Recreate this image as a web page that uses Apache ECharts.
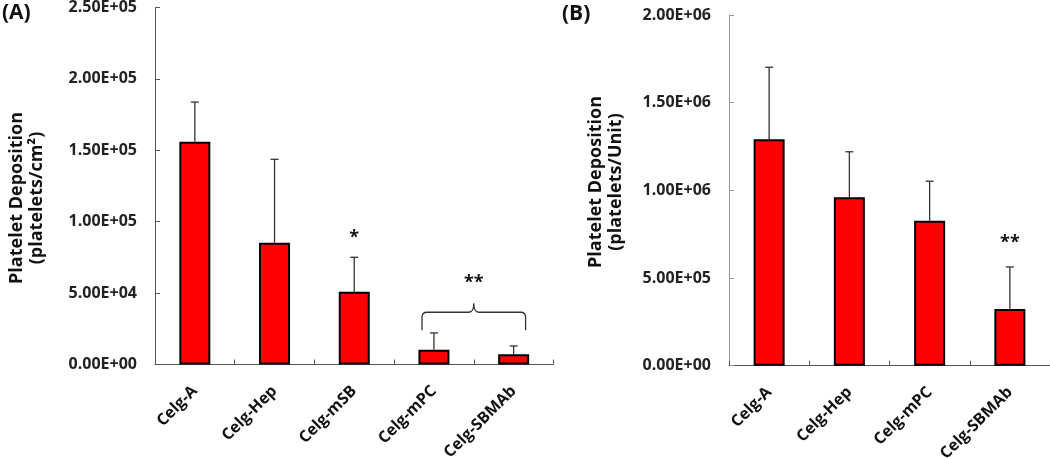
<!DOCTYPE html>
<html>
<head>
<meta charset="utf-8">
<script src="https://cdn.jsdelivr.net/npm/echarts@6/dist/echarts.min.js"></script>
<style>html,body{margin:0;padding:0;background:#fff;}#c{width:1050px;height:458px;}</style>
</head>
<body>
<div id="c"></div>
<script>
// ---- data ----
const categoriesA = ['Celg-A', 'Celg-Hep', 'Celg-mSB', 'Celg-mPC', 'Celg-SBMAb'];
const meanA = [156000, 85300, 51000, 10400, 7100];
const errA = [27800, 58400, 24100, 11700, 5900];
const yTicksA = ['0.00E+00', '5.00E+04', '1.00E+05', '1.50E+05', '2.00E+05', '2.50E+05'];

const categoriesB = ['Celg-A', 'Celg-Hep', 'Celg-mPC', 'Celg-SBMAb'];
const meanB = [1291000, 960000, 827000, 323000];
const errB = [411000, 260000, 225000, 240000];
const yTicksB = ['0.00E+00', '5.00E+05', '1.00E+06', '1.50E+06', '2.00E+06'];

// significance marks: [first category, last category, value level, text]
const sigA = [[2, 2, 88500, '*'], [3, 4, 57500, '**']];
const sigB = [[3, 3, 700000, '**']];
// brace over groups in panel A: [first category, last category, value level]
const braceA = [[3, 4, 36600]];

const stepA = 50000, stepB = 500000;

const FONT = '"Open Sans", Lato, sans-serif';
const chart = echarts.init(document.getElementById('c'));

function errRender(params, api) {
  const i = api.value(0);
  const p0 = api.coord([i, api.value(1)]);
  const p1 = api.coord([i, api.value(1) + api.value(2)]);
  const cap = 4;
  const st = { stroke: '#333', lineWidth: 1.3 };
  return {
    type: 'group',
    children: [
      { type: 'line', shape: { x1: p0[0], y1: p0[1], x2: p1[0], y2: p1[1] }, style: st },
      { type: 'line', shape: { x1: p1[0] - cap, y1: p1[1], x2: p1[0] + cap, y2: p1[1] }, style: st }
    ]
  };
}

function sigRender(params, api) {
  const a = api.coord([api.value(0), api.value(2)]);
  const b = api.coord([api.value(1), api.value(2)]);
  return {
    type: 'text',
    style: {
      text: api.value(3),
      x: (a[0] + b[0]) / 2, y: a[1],
      align: 'center', verticalAlign: 'middle',
      font: 'bold 18px ' + FONT, fill: '#111'
    }
  };
}

function braceRender(params, api) {
  const a = api.coord([api.value(0), api.value(2)]);
  const b = api.coord([api.value(1), api.value(2)]);
  const band = api.size([1, 0])[0];
  const cx = (a[0] + b[0]) / 2;
  const half = band * 0.65;
  const x0 = cx - half, x1 = cx + half, y = a[1];
  const drop = 18, r = 5, tip = 9;
  const d = 'M' + x0 + ' ' + (y + drop) +
    ' L' + x0 + ' ' + (y + r) +
    ' Q' + x0 + ' ' + y + ' ' + (x0 + r) + ' ' + y +
    ' L' + (cx - r) + ' ' + y +
    ' Q' + cx + ' ' + y + ' ' + cx + ' ' + (y - tip) +
    ' Q' + cx + ' ' + y + ' ' + (cx + r) + ' ' + y +
    ' L' + (x1 - r) + ' ' + y +
    ' Q' + x1 + ' ' + y + ' ' + x1 + ' ' + (y + r) +
    ' L' + x1 + ' ' + (y + drop);
  return {
    type: 'path',
    shape: { pathData: d },
    style: { fill: 'none', stroke: '#333', lineWidth: 1.3 }
  };
}

function xAxisCfg(gridIndex, cats) {
  return {
    type: 'category', gridIndex: gridIndex, data: cats,
    axisLine: { lineStyle: { color: '#555', width: 1 } },
    axisTick: { show: true, inside: true, length: 5, lineStyle: { color: '#555' } },
    axisLabel: {
      rotate: 45, margin: 24, interval: 0,
      color: '#111', fontFamily: FONT, fontWeight: 'bold', fontSize: 16
    }
  };
}
function yAxisCfg(gridIndex, max, step, labels, color) {
  return {
    type: 'value', gridIndex: gridIndex, min: 0, max: max, interval: step,
    splitLine: { show: false },
    axisLine: { show: true, lineStyle: { color: color, width: 1 } },
    axisTick: { show: true, inside: true, length: 5, lineStyle: { color: color } },
    axisLabel: {
      margin: 18, color: '#222', fontFamily: FONT, fontWeight: 'bold', fontSize: 16,
      formatter: function (v) { return labels[Math.round(v / step)]; }
    }
  };
}

const barStyle = { color: '#ff0000', borderColor: '#000', borderWidth: 2 };

chart.setOption({
  animation: false,
  backgroundColor: '#fff',
  grid: [
    { left: 155, top: 7.5, width: 398.5, height: 357, containLabel: false, outerBoundsMode: 'none' },
    { left: 729, top: 15, width: 321, height: 350.7, containLabel: false, outerBoundsMode: 'none' }
  ],
  xAxis: [xAxisCfg(0, categoriesA), xAxisCfg(1, categoriesB)],
  yAxis: [
    yAxisCfg(0, stepA * (yTicksA.length - 1), stepA, yTicksA, '#555'),
    yAxisCfg(1, stepB * (yTicksB.length - 1), stepB, yTicksB, '#999')
  ],
  graphic: [
    { type: 'text', x: 2, y: 13, style: { text: '(A)', font: 'bold 21px ' + FONT, fill: '#111', verticalAlign: 'middle' } },
    { type: 'text', x: 562, y: 14, style: { text: '(B)', font: 'bold 21px ' + FONT, fill: '#111', verticalAlign: 'middle' } },
    { type: 'text', x: 27, y: 198, rotation: Math.PI / 2,
      style: { text: 'Platelet Deposition\n(platelets/cm²)', font: 'bold 18px ' + FONT, lineHeight: 20, fill: '#111', align: 'center', verticalAlign: 'middle' } },
    { type: 'text', x: 606, y: 182, rotation: Math.PI / 2,
      style: { text: 'Platelet Deposition\n(platelets/Unit)', font: 'bold 18px ' + FONT, lineHeight: 20, fill: '#111', align: 'center', verticalAlign: 'middle' } }
  ],
  series: [
    { type: 'bar', xAxisIndex: 0, yAxisIndex: 0, data: meanA, barWidth: 31, itemStyle: barStyle },
    { type: 'custom', xAxisIndex: 0, yAxisIndex: 0, renderItem: errRender,
      data: meanA.map((v, i) => [i, v, errA[i]]), z: 1 },
    { type: 'custom', xAxisIndex: 0, yAxisIndex: 0, renderItem: sigRender, data: sigA },
    { type: 'custom', xAxisIndex: 0, yAxisIndex: 0, renderItem: braceRender, data: braceA },
    { type: 'bar', xAxisIndex: 1, yAxisIndex: 1, data: meanB, barWidth: 31, itemStyle: barStyle },
    { type: 'custom', xAxisIndex: 1, yAxisIndex: 1, renderItem: errRender,
      data: meanB.map((v, i) => [i, v, errB[i]]), z: 1 },
    { type: 'custom', xAxisIndex: 1, yAxisIndex: 1, renderItem: sigRender, data: sigB }
  ]
});
</script>
</body>
</html>
